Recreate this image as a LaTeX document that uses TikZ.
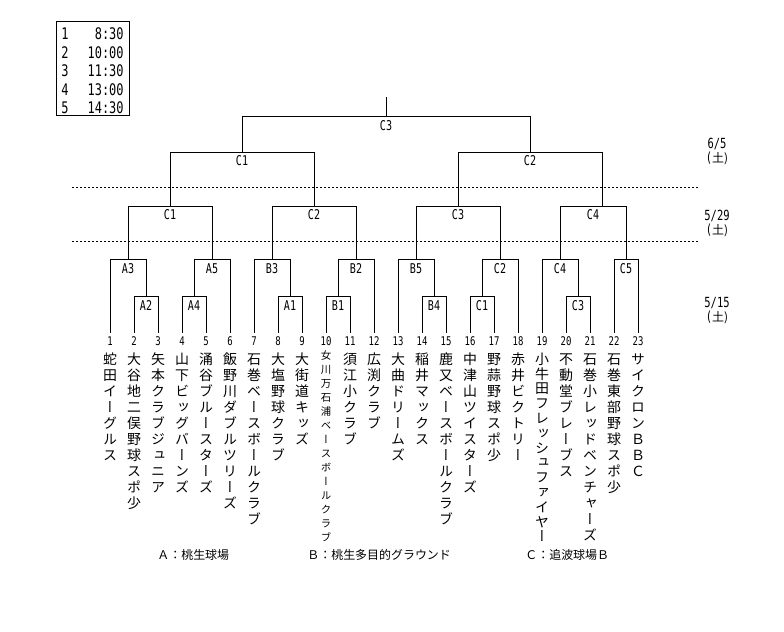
\documentclass[tikz,border=0pt]{standalone}
\usepackage{fontspec}
\newfontfamily\jp{Noto Sans CJK JP}
\newfontfamily\jpv[RawFeature=+vert]{Noto Sans CJK JP}
\newfontfamily\mono[FakeStretch=0.75]{DejaVu Sans Mono}
\def\vstackaux#1{\ifx\relax#1\else\hbox to 0pt{\hss#1\hss}\expandafter\vstackaux\fi}
\newcommand\vstack[2]{\vtop{\baselineskip=#1\lineskiplimit=-\maxdimen\lineskip=0pt\expandafter\vstackaux#2\relax}}
\begin{document}
\begin{tikzpicture}[x=1bp,y=-1bp,line width=0.8bp,
  lbl/.style={inner sep=0,font=\mono\fontsize{13.5}{13.5}\selectfont},
  num/.style={inner sep=0,font=\mono\fontsize{12}{12}\selectfont},
  date/.style={inner sep=0,font=\mono\fontsize{14}{14}\selectfont},
  leg/.style={inner sep=0,font=\mono\fontsize{16}{16}\selectfont},
  team/.style={inner sep=0,anchor=base,font=\jpv\fontsize{14}{16}\selectfont},
  teamsmall/.style={inner sep=0,anchor=base,font=\jpv\fontsize{10.5}{14}\selectfont},
  venue/.style={inner sep=0,anchor=west,font=\jp\fontsize{12}{12}\selectfont},
  dots/.style={dash pattern=on 2bp off 2bp}]
\useasboundingbox[fill=white] (0,0) rectangle (784,632);

% legend
\node[draw,inner sep=0,minimum width=73bp,minimum height=93.5bp,anchor=north west] (legend) at (56,21.5) {};
\foreach \i/\t/\y in {1/8:30/34,2/10:00/52.5,3/11:30/71,4/13:00/89.5,5/14:30/108}{
  \node[leg] (ln\i) at (65,\y) {\i};
  \node[leg,anchor=east] (lt\i) at (124,\y) {\t};
}

% dotted round separators
\coordinate (d1a) at (72,187.3); \coordinate (d1b) at (698,187.3);
\coordinate (d2a) at (72,241.7); \coordinate (d2b) at (698,241.7);
\draw[dots] (d1a) -- (d1b);
\draw[dots] (d2a) -- (d2b);

% dates
\node[date] (dA) at (717,143.5) {6/5};
\node[date] (dAd) at (717,158.5) {(\jp\fontsize{12}{12}\selectfont 土)};
\node[date] (dB) at (717,216) {5/29};
\node[date] (dBd) at (717,230.5) {(\jp\fontsize{12}{12}\selectfont 土)};
\node[date] (dC) at (717,303) {5/15};
\node[date] (dCd) at (717,317.5) {(\jp\fontsize{12}{12}\selectfont 土)};

% level 1 brackets
\draw (110,333) |- (146,259) -- (146,296);
\draw (134,333) |- (158,296) -- (158,333);
\draw (182,333) |- (206,296) -- (206,333);
\draw (194,296) |- (230,259) -- (230,333);
\draw (254,333) |- (290,259) -- (290,296);
\draw (278,333) |- (302,296) -- (302,333);
\draw (326,333) |- (350,296) -- (350,333);
\draw (338,296) |- (374,259) -- (374,333);
\draw (398,333) |- (434,259) -- (434,296);
\draw (422,333) |- (446,296) -- (446,333);
\draw (470,333) |- (494,296) -- (494,333);
\draw (482,296) |- (518,259) -- (518,333);
\draw (542,333) |- (578,259) -- (578,296);
\draw (566,333) |- (590,296) -- (590,333);
\draw (614,333) |- (638,259) -- (638,333);
% level 2
\draw (128,259) |- (212,206) -- (212,259);
\draw (272,259) |- (356,206) -- (356,259);
\draw (416,259) |- (500,206) -- (500,259);
\draw (560,259) |- (626,206) -- (626,259);
% level 3
\draw (170,206) |- (314,152) -- (314,206);
\draw (458,206) |- (602,152) -- (602,206);
% final
\draw (242,152) |- (530,116) -- (530,152);
\draw (386,116) -- (386,97);

% match labels
\node[lbl] (f) at (386,126) {C3};
\node[lbl] (s1) at (242,161) {C1};
\node[lbl] (s2) at (530,161) {C2};
\node[lbl] (q1) at (170,215) {C1};
\node[lbl] (q2) at (314,215) {C2};
\node[lbl] (q3) at (458,215) {C3};
\node[lbl] (q4) at (593,215) {C4};
\foreach \n/\x/\t in {a/128/A3,b/212/A5,c/272/B3,d/356/B2,e/416/B5,g/500/C2,h/560/C4,k/626/C5}
  \node[lbl] (r\n) at (\x,269) {\t};
\foreach \n/\x/\t in {a/146/A2,b/194/A4,c/290/A1,d/338/B1,e/434/B4,g/482/C1,h/578/C3}
  \node[lbl] (p\n) at (\x,305.5) {\t};

% team numbers and names
\foreach \i/\name in {1/蛇田イーグルス,2/大谷地二俣野球スポ少,3/矢本クラブジュニア,4/山下ビッグバーンズ,5/涌谷ブルースターズ,6/飯野川ダブルツリーズ,7/石巻ベースボールクラブ,8/大塩野球クラブ,9/大街道キッズ,11/須江小クラブ,12/広渕クラブ,13/大曲ドリームズ,14/稲井マックス,15/鹿又ベースボールクラブ,16/中津山ツイスターズ,17/野蒜野球スポ少,18/赤井ビクトリー,20/不動堂ブレーブス,21/石巻小レッドベンチャーズ,22/石巻東部野球スポ少,23/サイクロンＢＢＣ}{
  \pgfmathsetmacro\xx{110+24*(\i-1)}
  \node[num] (t\i) at (\xx,341) {\i};
  \node[team] (n\i) at (\xx,364.3) {\vstack{16bp}{\name}};
}
\node[num] (t10) at (326,341) {10};
\node[teamsmall] (n10) at (326,359) {\vstack{14bp}{女川万石浦ベースボールクラブ}};
\node[num] (t19) at (542,341) {19};
\node[team] (n19) at (542,364.3) {\vstack{14.8bp}{小牛田フレッシュファイヤー}};

% venues
\node[venue] (vA) at (157,555) {Ａ：桃生球場};
\node[venue] (vB) at (307,555) {Ｂ：桃生多目的グラウンド};
\node[venue] (vC) at (525,555) {Ｃ：追波球場Ｂ};
\end{tikzpicture}
\end{document}
